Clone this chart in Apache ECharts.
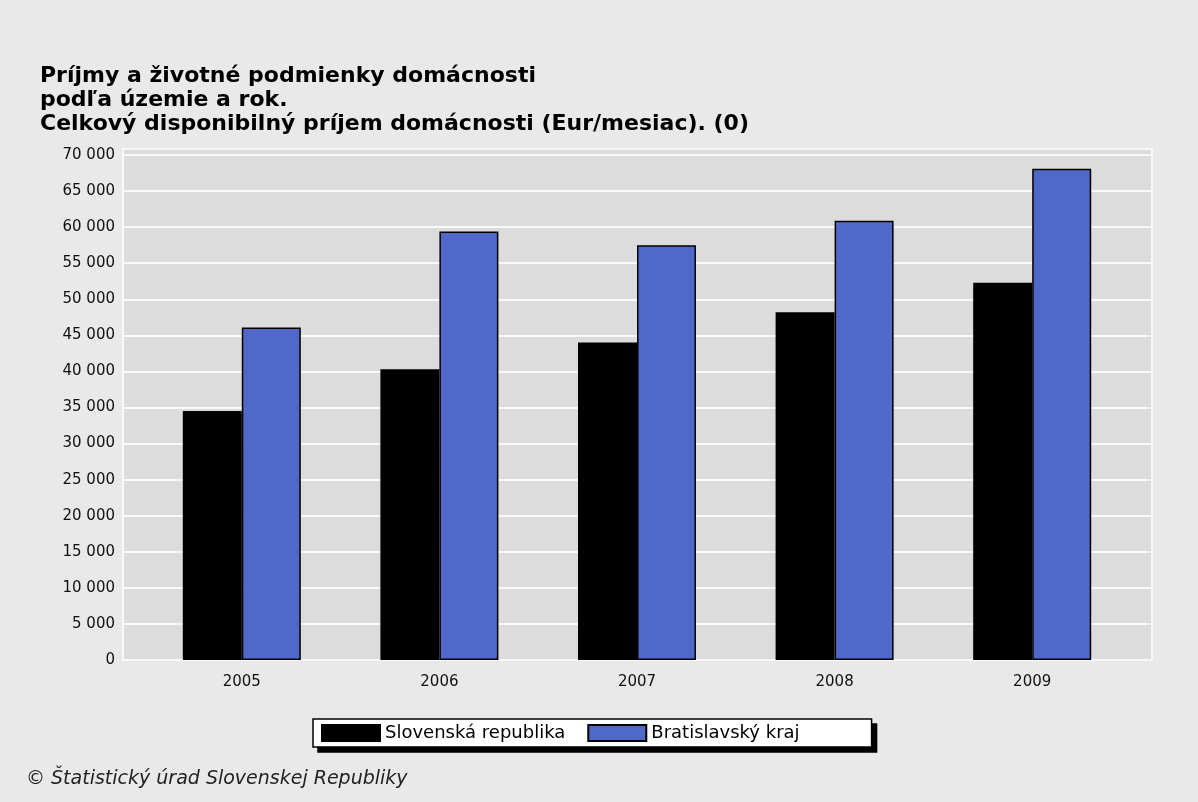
<!DOCTYPE html>
<html>
<head>
<meta charset="utf-8">
<title>Príjmy a životné podmienky domácnosti</title>
<script src="https://cdn.jsdelivr.net/npm/echarts@6/dist/echarts.min.js"></script>
<style>
  html, body { margin: 0; padding: 0; background: #e9e9e9; }
  #chart { width: 1198px; height: 802px; }
</style>
</head>
<body>
<div id="chart"></div>
<script>
// ---------------------------- BEGIN CHART DATA ---------------------------
var years = ['2005', '2006', '2007', '2008', '2009'];
var seriesNames = ['Slovenská republika', 'Bratislavský kraj'];
var slovakiaValues = [34500, 40300, 44000, 48200, 52300];
var bratislavaValues = [46100, 59400, 57500, 60900, 68100];
var titleLines = [
  'Príjmy a životné podmienky domácnosti',
  'podľa územie a rok.',
  'Celkový disponibilný príjem domácnosti (Eur/mesiac). (0)'
];
var sourceNote = '© Štatistický úrad Slovenskej Republiky';
// ----------------------------- END CHART DATA ----------------------------

var chartSelf = (function () {
  // ---------------------- BEGIN MODULE SCOPE VARIABLES ---------------------
  var
    configMap = {
      font      : 'DejaVu Sans',
      yMax      : 70830,
      yStep     : 5000,
      barColors : ['#000000', '#5068c8']
    },
    formatThousands, makeLegend, buildOption, initModule
  ;
  // ----------------------- END MODULE SCOPE VARIABLES ----------------------

  // -------------------------- BEGIN UTILITY METHODS ------------------------
  formatThousands = function (value) {
    if (value % configMap.yStep !== 0) { return ''; }
    return String(value).replace(/\B(?=(\d{3})+(?!\d))/g, ' ');
  };

  // the drop shadow is a second, blank legend of the same size set behind
  makeLegend = function (isShadow) {
    var legend = {
      data : seriesNames,
      left : isShadow ? 318 : 313,
      top  : isShadow ? 724 : 719,
      z    : isShadow ? 3 : 4,
      backgroundColor : isShadow ? '#000' : '#fff',
      borderColor : '#000', borderWidth : 1.5, borderRadius : 0,
      padding : [5, 72, 5, 8],
      itemWidth : 58, itemHeight : 16, itemGap : 22,
      icon : 'rect',
      textStyle : { fontFamily : configMap.font, fontSize : 18, color : '#000' }
    };
    if (isShadow) {
      legend.textStyle.color = 'rgba(0,0,0,0)';
      legend.itemStyle = { opacity : 0 };
    }
    return legend;
  };
  // --------------------------- END UTILITY METHODS -------------------------

  // ---------------------------- BEGIN DOM METHODS --------------------------
  buildOption = function () {
    var font = configMap.font;
    return {
      backgroundColor : '#e9e9e9',
      animation : false,
      title : {
        text : titleLines.join('\n'),
        left : 35, top : 59,
        textStyle : {
          fontFamily : font, fontSize : 22, fontWeight : 'bold',
          color : '#000', lineHeight : 24
        }
      },
      // grid 0 holds the plot background and value axis,
      // grid 1 is inset a little and holds the bars
      grid : [
        {
          left : 123, top : 149, width : 1029, height : 511,
          show : true, backgroundColor : '#dcdcdc',
          borderColor : '#f8f8f8', borderWidth : 2
        },
        { left : 143, top : 149, width : 988, height : 511 }
      ],
      xAxis : [
        { gridIndex : 0, type : 'value', min : 0, max : 1, show : false },
        {
          gridIndex : 1, type : 'category', data : years,
          axisLine : { show : false }, axisTick : { show : false },
          axisLabel : { fontFamily : font, fontSize : 15, color : '#111', margin : 15 }
        }
      ],
      yAxis : [
        {
          gridIndex : 0, type : 'value', min : 0, max : configMap.yMax,
          interval : configMap.yStep,
          axisLine : { show : false }, axisTick : { show : false },
          axisLabel : {
            fontFamily : font, fontSize : 15, color : '#111', margin : 8,
            formatter : formatThousands
          },
          splitLine : { lineStyle : { color : '#f8f8f8', width : 2 } }
        },
        {
          gridIndex : 1, type : 'value', min : 0, max : configMap.yMax,
          show : false, splitLine : { show : false }
        }
      ],
      legend : [makeLegend(true), makeLegend(false)],
      graphic : [{
        type : 'text', left : 26, top : 770,
        style : {
          text : sourceNote, fill : '#222',
          font : 'italic 19px "DejaVu Sans"'
        }
      }],
      series : [
        {
          name : seriesNames[0], type : 'bar', data : slovakiaValues,
          xAxisIndex : 1, yAxisIndex : 1, barWidth : 59, barGap : '0%',
          itemStyle : { color : configMap.barColors[0], borderColor : '#000', borderWidth : 1.5 }
        },
        {
          name : seriesNames[1], type : 'bar', data : bratislavaValues,
          xAxisIndex : 1, yAxisIndex : 1, barWidth : 59, barGap : '0%',
          itemStyle : { color : configMap.barColors[1], borderColor : '#000', borderWidth : 1.5 }
        }
      ]
    };
  };
  // ----------------------------- END DOM METHODS ---------------------------

  // -------------------------- BEGIN PUBLIC METHODS -------------------------
  initModule = function (container) {
    var myChart = echarts.init(container, null, { renderer : 'canvas' });
    myChart.setOption(buildOption());
    return true;
  };

  return { initModule : initModule };
  // --------------------------- END PUBLIC METHODS --------------------------
}());

chartSelf.initModule(document.getElementById('chart'));
</script>
</body>
</html>
